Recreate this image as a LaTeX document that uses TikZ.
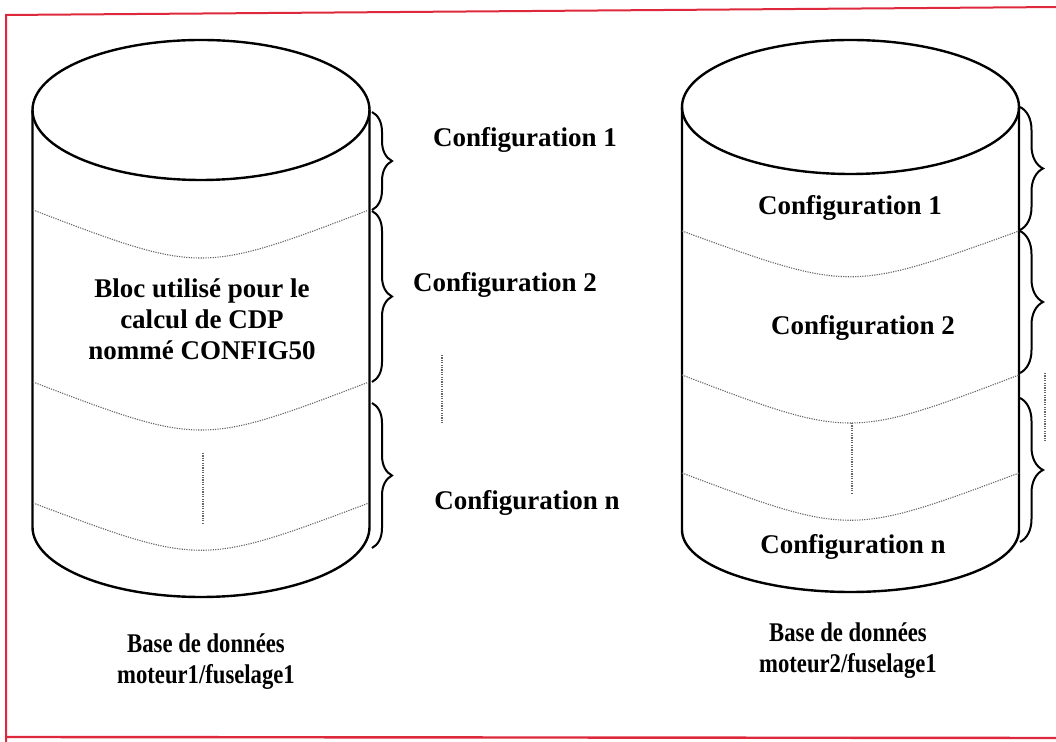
\documentclass[tikz,border=0pt]{standalone}
\usepackage{fontspec}
\setmainfont{Liberation Serif}
\newfontfamily\condfont[FakeStretch=0.84]{Liberation Serif}
\usetikzlibrary{decorations.pathreplacing}
\definecolor{framered}{RGB}{222,40,60}
\tikzset{
  cyl/.style={line width=1.2pt, black},
  sep/.style={gray!80!black, line width=0.55pt, dash pattern=on 0.6pt off 0.6pt},
  lbl/.style={font=\bfseries\fontsize{13.5}{15.5}\selectfont, inner sep=0pt, align=center},
  blbl/.style={font=\condfont\bfseries\fontsize{13.5}{15.5}\selectfont, inner sep=0pt, align=center},
  brL/.style={decorate, decoration={brace, amplitude=10pt}, line width=1pt},
  brR/.style={decorate, decoration={brace, amplitude=11.5pt}, line width=1pt},
}
\begin{document}
\begin{tikzpicture}[x=0.5pt,y=-0.5pt]
\useasboundingbox (0,0) rectangle (1056,742);
% frame
\draw[framered, line width=1pt] (1060,7) -- (6,15) -- (6,750);
\draw[framered, line width=1.2pt] (6,737) -- (1060,738);

% left cylinder
\draw[cyl] (201,110) ellipse [x radius=168.5, y radius=70];
\draw[cyl] (32.5,110) -- (32.5,527) arc[start angle=180, end angle=0, x radius=168.5, y radius=70] -- (369.5,110);
\draw[sep] (33,210) .. controls (201,274) and (201,274) .. (369,210);
\draw[sep] (33,382) .. controls (201,446) and (201,446) .. (369,382);
\draw[sep] (33,503) .. controls (201,566) and (201,566) .. (369,503);
\draw[sep] (203,453) -- (203,523);

% right cylinder
\draw[cyl] (850.5,107) ellipse [x radius=168.5, y radius=67];
\draw[cyl] (682,107) -- (682,530) arc[start angle=180, end angle=0, x radius=168.5, y radius=62] -- (1019,107);
\draw[sep] (682,231) .. controls (850,292) and (850,292) .. (1019,231);
\draw[sep] (682,375) .. controls (850,439) and (850,439) .. (1019,375);
\draw[sep] (682,473) .. controls (850,536) and (850,536) .. (1019,473);
\draw[sep] (852,423) -- (852,493);

% braces left
\coordinate (la1) at (372,112); \coordinate (la2) at (372,210);
\coordinate (lb1) at (372,211); \coordinate (lb2) at (372,382);
\coordinate (lc1) at (372,403); \coordinate (lc2) at (372,548);
\draw[brL] (la1) -- (la2);
\draw[brL] (lb1) -- (lb2);
\draw[brL] (lc1) -- (lc2);
\draw[sep] (442,355) -- (442,423);

% braces right
\coordinate (ra1) at (1020,107); \coordinate (ra2) at (1020,230);
\coordinate (rb1) at (1020,231); \coordinate (rb2) at (1020,373);
\coordinate (rc1) at (1020,398); \coordinate (rc2) at (1020,542);
\draw[brR] (ra1) -- (ra2);
\draw[brR] (rb1) -- (rb2);
\draw[brR] (rc1) -- (rc2);
\draw[sep] (1045,373) -- (1045,442);

% labels left
\node[lbl] (l1) at (525,140) {Configuration 1};
\node[lbl] (l2) at (505,285) {Configuration 2};
\node[lbl] (ln) at (527,503) {Configuration n};
\node[lbl] (bloc) at (202,319) {Bloc utilisé pour le\\calcul de CDP\\nommé CONFIG50};

% labels right
\node[lbl] (r1) at (850,208) {Configuration 1};
\node[lbl] (r2) at (863,328) {Configuration 2};
\node[lbl] (rn) at (853,547) {Configuration n};

% database names
\node[blbl] (db1) at (206,662) {Base de données\\moteur1/fuselage1};
\node[blbl] (db2) at (848,651) {Base de données\\moteur2/fuselage1};
\end{tikzpicture}
\end{document}
